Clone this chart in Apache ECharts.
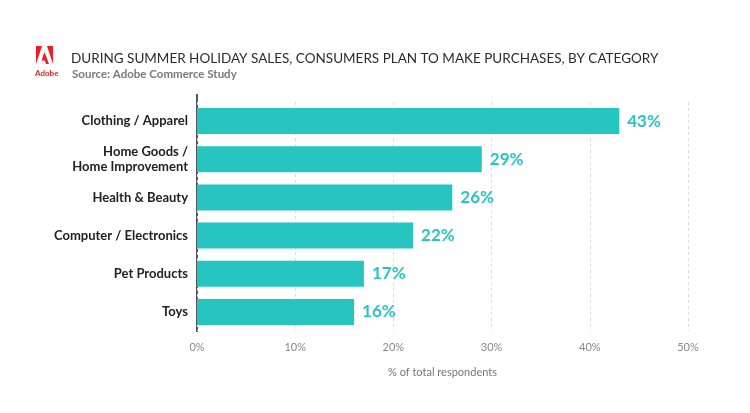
<!DOCTYPE html>
<html><head><meta charset="utf-8">
<script src="https://cdn.jsdelivr.net/npm/echarts@6/dist/echarts.min.js"></script>
<style>html,body{margin:0;padding:0;background:#fff}#c{width:750px;height:413px}</style>
</head><body><div id="c"></div>
<script>
const categories = ['Clothing / Apparel', 'Home Goods /\nHome Improvement', 'Health & Beauty', 'Computer / Electronics', 'Pet Products', 'Toys'];
const values = [43, 29, 26, 22, 17, 16];
const xTicks = [0, 10, 20, 30, 40, 50];

const chart = echarts.init(document.getElementById('c'));
const red = '#ed1c24';
chart.setOption({
  animation: false,
  textStyle: { fontFamily: 'Lato' },
  title: [
    { text: 'DURING SUMMER HOLIDAY SALES, CONSUMERS PLAN TO MAKE PURCHASES, BY CATEGORY', left: 66, top: 47,
      textStyle: { fontSize: 13.5, fontWeight: 'normal', color: '#2b2b2b', fontFamily: 'Lato' } },
    { text: 'Source: Adobe Commerce Study', left: 67, top: 63,
      textStyle: { fontSize: 11.5, fontWeight: 'bold', color: '#7a7a7a', fontFamily: 'Lato' } }
  ],
  graphic: [
    { type: 'polygon', shape: { points: [[36,46],[42,46],[36,64]] }, style: { fill: red } },
    { type: 'polygon', shape: { points: [[47,46],[53,46],[53,64]] }, style: { fill: red } },
    { type: 'polygon', shape: { points: [[44.5,52],[49,64],[46,64],[44.8,60.5],[41.5,60.5],[44.5,52]] }, style: { fill: red } },
    { type: 'text', left: 35, top: 69, style: { text: 'Adobe', fill: red, font: 'bold 8px Lato' } },
    { type: 'line', shape: { x1: 197, y1: 94, x2: 197, y2: 332 }, style: { stroke: '#555', lineWidth: 2 } }
  ],
  grid: { left: 197, right: 62, top: 102, bottom: 82, containLabel: false },
  xAxis: {
    type: 'value', min: 0, max: 50, interval: 10,
    name: '% of total respondents', nameLocation: 'middle', nameGap: 36,
    nameTextStyle: { fontSize: 11, color: '#777' },
    axisLine: { show: false }, axisTick: { show: false },
    axisLabel: { color: '#888', fontSize: 11, margin: 11, formatter: v => v + '%' },
    splitLine: { show: true, lineStyle: { color: '#ddd', type: [3, 3], width: 1 } }
  },
  yAxis: {
    type: 'category', data: categories, inverse: true,
    axisLine: { show: false }, axisTick: { show: false },
    axisLabel: { color: '#222', fontSize: 13, fontWeight: 'bold', margin: 9, lineHeight: 15, align: 'right' }
  },
  series: [{
    type: 'bar', data: values, barWidth: 26,
    itemStyle: { color: '#27c5c0' },
    label: { show: true, position: 'right', distance: 8, formatter: p => p.value + '%',
      color: '#27c5c0', fontSize: 17, fontWeight: 'bold' }
  }]
});
</script></body></html>
